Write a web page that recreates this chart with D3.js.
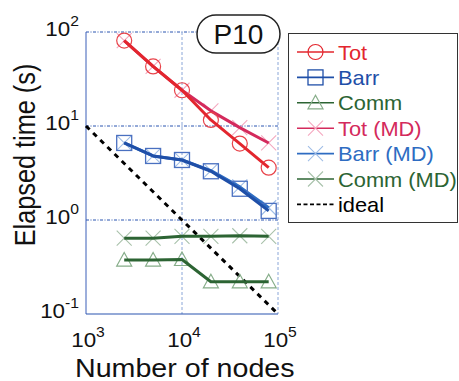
<!DOCTYPE html>
<html>
<head>
<meta charset="UTF-8">
<title>P10 scaling</title>
<script src="https://cdn.jsdelivr.net/npm/d3@7"></script>
<style>
  body { margin: 0; background: #fff; }
  svg { display: block; font-family: "Liberation Sans", Arial, sans-serif; }
</style>
</head>
<body>
<svg id="chart" width="459" height="381"></svg>
<script>
// data
const nodes  = [2500, 5000, 10000, 20000, 40000, 80000];
const tot    = [81, 43, 24, 11.6, 6.5, 3.6];
const barr   = [6.6, 4.8, 4.35, 3.3, 2.15, 1.25];
const comm   = [0.375, 0.375, 0.38, 0.22, 0.22, 0.22];
const totMD  = [81, 43, 24, 14.5, 9.6, 6.6];
const barrMD = [6.6, 4.8, 4.35, 3.35, 2.25, 1.35];
const commMD = [0.64, 0.64, 0.67, 0.67, 0.68, 0.67];
const idealX = [1000, 100000];
const idealY = [10, 0.1];
const xTicks = [1e3, 1e4, 1e5];
const yTicks = [1e-1, 1e0, 1e1, 1e2];

const series = [
  { name: "Tot",       y: tot,    line: "#e3262e", mark: "#e8434a", shape: "circle" },
  { name: "Barr",      y: barr,   line: "#1f4fa8", mark: "#4a70c0", shape: "square" },
  { name: "Comm",      y: comm,   line: "#2c6433", mark: "#86ad89", shape: "triangle" },
  { name: "Tot (MD)",  y: totMD,  line: "#d42a5c", mark: "#f4a9c0", shape: "cross" },
  { name: "Barr (MD)", y: barrMD, line: "#2e6cc2", mark: "#9fbde6", shape: "cross" },
  { name: "Comm (MD)", y: commMD, line: "#2c6433", mark: "#a9c2ab", shape: "cross" }
];

const svg = d3.select("#chart");
const x = d3.scaleLog().domain([1e3, 1e5]).range([86, 278]);
const y = d3.scaleLog().domain([1e-1, 1e2]).range([314, 32]);

// title, mostly cut off at the top edge in the original
svg.append("text").attr("x", 231).attr("y", -6).attr("text-anchor", "end")
  .attr("font-size", 22).text("Strong scaling");

// grid and frame
const g = svg.append("g");
[1e0, 1e1, 1e2].forEach(v => {
  g.append("line").attr("x1", x(1e3)).attr("x2", x(1e5)).attr("y1", y(v)).attr("y2", y(v))
    .attr("stroke", "#2a55b0").attr("stroke-width", 1).attr("stroke-dasharray", "3,1.5,1,1.5");
});
g.append("line").attr("x1", x(1e4)).attr("x2", x(1e4)).attr("y1", y(1e2)).attr("y2", y(1e-1))
  .attr("stroke", "#8aa6d8").attr("stroke-width", 1).attr("stroke-dasharray", "3,2");
g.append("line").attr("x1", x(1e5)).attr("x2", x(1e5)).attr("y1", y(1e2)).attr("y2", y(1e-1))
  .attr("stroke", "#8aa6d8").attr("stroke-width", 1).attr("stroke-dasharray", "3,2");
g.append("line").attr("x1", x(1e3)).attr("x2", x(1e3)).attr("y1", y(1e2)).attr("y2", y(1e-1))
  .attr("stroke", "#3a5fb8").attr("stroke-width", 1);
g.append("line").attr("x1", x(1e3)).attr("x2", x(1e5)).attr("y1", y(1e-1)).attr("y2", y(1e-1))
  .attr("stroke", "#2a55b0").attr("stroke-width", 1.2);

// tick labels as 10^n (original figure is stretched a little sideways)
function powLabel(sel, v, px, py, anchor) {
  const t = sel.append("text").attr("transform", `translate(${px},${py}) scale(1.12,1)`)
    .attr("text-anchor", anchor).attr("font-size", 20).attr("fill", "#111");
  t.append("tspan").text("10");
  t.append("tspan").attr("font-size", 14).attr("dy", -10).text(Math.round(Math.log10(v)));
}
yTicks.forEach(v => powLabel(svg, v, 79, y(v) + 4, "end"));
xTicks.forEach(v => powLabel(svg, v, x(v) + 2, 347, "middle"));

// axis titles
svg.append("text").attr("transform", "translate(75,377) scale(1.08,1)").attr("font-size", 26.5)
  .attr("fill", "#111").text("Number of nodes");
svg.append("text").attr("transform", "translate(35,155) scale(1.15,1) rotate(-90)")
  .attr("text-anchor", "middle").attr("font-size", 25.3).attr("fill", "#111").text("Elapsed time (s)");

// ideal
svg.append("line").attr("x1", x(idealX[0])).attr("y1", y(idealY[0]))
  .attr("x2", x(idealX[1])).attr("y2", y(idealY[1]))
  .attr("stroke", "#000").attr("stroke-width", 3).attr("stroke-dasharray", "5,5");

function drawMarker(sel, shape, cx, cy, color) {
  const s = 7.5;
  if (shape === "circle") {
    sel.append("circle").attr("cx", cx).attr("cy", cy).attr("r", s)
      .attr("fill", "none").attr("stroke", color).attr("stroke-width", 1.2);
  } else if (shape === "square") {
    sel.append("rect").attr("x", cx - s).attr("y", cy - s).attr("width", 2 * s).attr("height", 2 * s)
      .attr("fill", "none").attr("stroke", color).attr("stroke-width", 1.3);
  } else if (shape === "triangle") {
    sel.append("path").attr("d", `M${cx},${cy - s}L${cx + s},${cy + 6}L${cx - s},${cy + 6}Z`)
      .attr("fill", "none").attr("stroke", color).attr("stroke-width", 1.2);
  } else {
    sel.append("path").attr("d", `M${cx - s},${cy - s}L${cx + s},${cy + s}M${cx - s},${cy + s}L${cx + s},${cy - s}`)
      .attr("fill", "none").attr("stroke", color).attr("stroke-width", 1.1);
  }
}

const line = d3.line().x(d => x(d[0])).y(d => y(d[1]));
const order = [3, 4, 5, 0, 1, 2];
order.forEach(i => {
  const s = series[i];
  const pts = nodes.map((n, k) => [n, s.y[k]]);
  const gs = svg.append("g");
  pts.forEach(p => drawMarker(gs, s.shape, x(p[0]), y(p[1]), s.mark));
  gs.append("path").attr("d", line(pts)).attr("fill", "none")
    .attr("stroke", s.line).attr("stroke-width", 3).attr("stroke-linejoin", "round");
});

// P10 badge
svg.append("rect").attr("x", 197).attr("y", 15).attr("width", 83).attr("height", 38).attr("rx", 19)
  .attr("fill", "#fff").attr("stroke", "#222").attr("stroke-width", 1.5);
svg.append("text").attr("x", 238.5).attr("y", 44).attr("text-anchor", "middle")
  .attr("font-size", 28).attr("fill", "#111").text("P10");

// legend
const lg = svg.append("g");
lg.append("rect").attr("x", 288.5).attr("y", 33.5).attr("width", 169).attr("height", 189)
  .attr("fill", "#fff").attr("stroke", "#333").attr("stroke-width", 1);
series.forEach((s, i) => {
  const ly = 52 + i * 25.4;
  lg.append("line").attr("x1", 297).attr("x2", 334).attr("y1", ly).attr("y2", ly)
    .attr("stroke", s.line).attr("stroke-width", 1.6);
  const mc = s.shape === "cross" ? s.mark : s.line;
  drawMarker(lg, s.shape, 315.5, ly, s.shape === "triangle" ? s.mark : mc);
  lg.append("text").attr("transform", `translate(338,${ly + 7.5}) scale(1.04,1)`).attr("font-size", 21)
    .attr("fill", s.line).text(s.name);
});
const iy = 52 + 6 * 25.4;
lg.append("line").attr("x1", 297).attr("x2", 334).attr("y1", iy).attr("y2", iy)
  .attr("stroke", "#000").attr("stroke-width", 1.6).attr("stroke-dasharray", "4,2.5");
lg.append("text").attr("transform", `translate(338,${iy + 7.5}) scale(1.04,1)`).attr("font-size", 21)
  .attr("fill", "#000").text("ideal");
</script>
</body>
</html>
